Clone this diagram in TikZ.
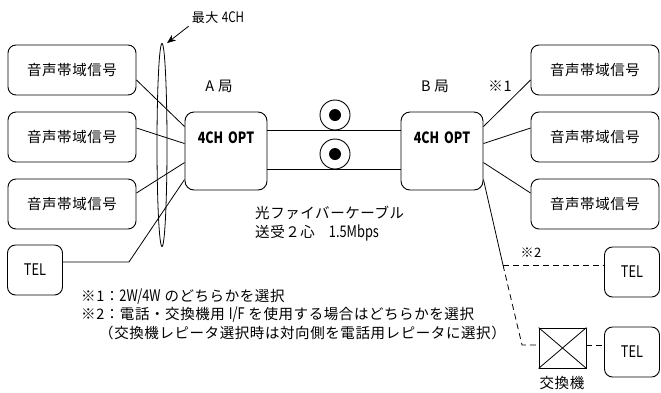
\documentclass[tikz,border=0pt]{standalone}
\usepackage{fontspec}
\setmainfont{Noto Sans CJK JP}[LetterSpace=4]
\newfontfamily\nar{Noto Sans CJK JP}[FakeStretch=0.8]
\usetikzlibrary{shapes.geometric,arrows.meta,calc}
\begin{document}
\begin{tikzpicture}[x=1pt,y=-1pt,
 box/.style={draw, rounded corners=8pt, line width=0.9pt, minimum width=128pt, minimum height=50pt, inner sep=0pt, font=\fontsize{14.5}{16}\selectfont},
 telbox/.style={box, minimum width=55pt, font=\fontsize{16}{17}\selectfont\nar},
 opt/.style={draw, rounded corners=9pt, line width=0.9pt, minimum width=82pt, minimum height=78pt, inner sep=0pt},
 ln/.style={line width=0.8pt},
 dl/.style={ln, dash pattern=on 6pt off 4pt},
 txt/.style={inner sep=0pt, font=\fontsize{14.5}{16}\selectfont},
 opttxt/.style={inner sep=0pt, font=\fontsize{15.5}{16}\selectfont\nar\bfseries},
 fib/.style={circle, draw, line width=0.9pt, minimum size=30pt, inner sep=0pt},
 core/.style={circle, fill, minimum size=12pt, inner sep=0pt},
]
\useasboundingbox (0,0) rectangle (661,392);
% left side
\node[box] (L1) at (72,70) {音声帯域信号};
\node[box] (L2) at (72,137) {音声帯域信号};
\node[box] (L3) at (72,204) {音声帯域信号};
\node[telbox] (LT) at (35,270) {TEL};
\node[opt] (A) at (226,151) {};
\node[opttxt] (At) at (226,138) {4CH\hspace{5pt}OPT};
\node[txt] (Alab) at (219,86) {A 局};
% ellipse and label
\node[ellipse, draw, line width=0.8pt, minimum width=10pt, minimum height=203pt, inner sep=0pt] (E) at (162,145) {};
\node[txt, font=\fontsize{13}{14}\selectfont] (M) at (218,18) {最大 {\nar\fontsize{14.5}{15}\selectfont 4CH}};
\draw[ln, -{Stealth[length=9pt,width=7pt]}] ($(M.south west)+(-3,2)$) -- ($(E.north)+(5,0)$);
% right side
\node[opt] (B) at (442,151) {};
\node[opttxt] (Bt) at (442,138) {4CH\hspace{5pt}OPT};
\node[txt] (Blab) at (435,86) {B 局};
\node[txt] (n1) at (500,86) {※1};
\node[box] (R1) at (595,70) {音声帯域信号};
\node[box] (R2) at (595,137) {音声帯域信号};
\node[box] (R3) at (595,204) {音声帯域信号};
\node[telbox] (RT1) at (632,272) {TEL};
\node[telbox] (RT2) at (632,352) {TEL};
\node[draw, line width=0.9pt, minimum width=47pt, minimum height=40pt, inner sep=0pt] (X) at (562.5,348) {};
\draw[ln] (X.north west) -- (X.south east) (X.north east) -- (X.south west);
\node[txt] (Xlab) at (562,383) {交換機};
% fibers
\node[fib] (C1) at (335,115) {};
\node[core] (D1) at (C1) {};
\node[fib] (C2) at (335,154) {};
\node[core] (D2) at (C2) {};
\draw[ln] (A.east |- C1.south) -- (B.west |- C1.south);
\draw[ln] (A.east |- C2.south) -- (B.west |- C2.south);
\node[txt, anchor=west] (F1) at (255,213) {光ファイバーケーブル};
\node[txt, anchor=west] (F2) at (255,233) {送受２心\hspace{14pt}{\nar\fontsize{16}{16}\selectfont 1.5Mbps}};
% left connectors
\draw[ln] ($(L1.east)+(0,10)$) -- ($(A.north west)+(0,15)$);
\draw[ln] ($(L2.east)+(0,-9)$) -- ($(A.north west)+(0,32)$);
\draw[ln] ($(L3.east)+(0,-11)$) -- ($(A.north west)+(0,51)$);
\draw[ln] ($(LT.east)+(0,-8)$) -- ++(66,0) -- ($(A.north west)+(0,68)$);
% right connectors
\draw[ln] ($(B.north east)+(0,15)$) -- ($(R1.west)+(0,10)$);
\draw[ln] ($(B.north east)+(0,32)$) -- ($(R2.west)+(0,-9)$);
\draw[ln] ($(B.north east)+(0,51)$) -- ($(R3.west)+(0,-11)$);
\coordinate (J1) at (503,265);
\coordinate (J2) at (522,345);
\draw[ln] ($(B.north east)+(0,68)$) -- (J1);
\draw[dl] (J1) -- (RT1.west |- J1);
\draw[dl] (J1) -- (J2) -- (X.west |- J2);
\draw[dl] (X.east |- J2) -- (RT2.west |- J2);
\node[txt, font=\fontsize{13}{14}\selectfont] (n2) at (531,253) {※2};
% notes
\node[txt, anchor=west] (N1) at (81,297) {※1：{\nar\fontsize{16}{16}\selectfont 2W/4W} のどちらかを選択};
\node[txt, anchor=west] (N2) at (81,315) {※2：電話・交換機用 {\nar\fontsize{16}{16}\selectfont I/F} を使用する場合はどちらかを選択};
\node[txt, anchor=west] (N3) at (99,333) {（交換機レピータ選択時は対向側を電話用レピータに選択）};
\end{tikzpicture}
\end{document}
